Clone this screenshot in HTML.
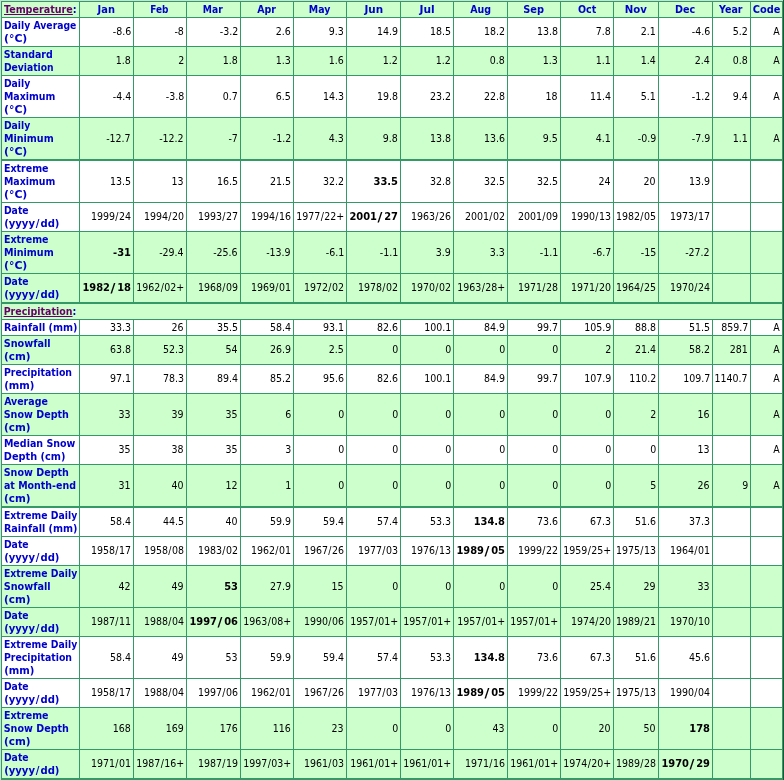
<!DOCTYPE html>
<html lang="en"><head><meta charset="utf-8"><title>Climate Normals</title>
<style>
html,body{margin:0;padding:0;background:#339966;}
body{width:784px;height:780px;position:relative;overflow:hidden;
 font-family:"DejaVu Sans Condensed","DejaVu Sans","Liberation Sans",sans-serif;font-stretch:condensed;font-size:11px;line-height:13px;color:#000;}
#t{position:absolute;left:0;top:0;width:784px;height:780px;background:#339966;overflow:hidden;}
.e{position:absolute;}
.c{position:absolute;box-sizing:border-box;overflow:hidden;white-space:nowrap;padding-top:1px;}
.g{background:#ccffcc;}
.w{background:#ffffff;}
.l{text-align:left;padding-left:2px;font-weight:bold;color:#0000cc;}
.l a{color:#660066;text-decoration:underline;text-decoration-skip-ink:none;}
.ln{display:block;height:13px;transform-origin:0 0;}
.m{text-align:left;font-weight:bold;color:#0000cc;}
.d{text-align:right;padding-right:2px;}
.m span{display:inline-block;transform-origin:0 0;}
.d span{display:inline-block;transform-origin:100% 50%;transform:scaleX(.955);}
b{font-weight:bold;display:inline-block;}
i{font-style:normal;}
.l i{padding:0 .9px}
.d span i{padding:0 .4px}
.d b i{display:inline-block;padding:0 2.3px 0 1.3px;transform:translateY(.4px) scale(1.35,1.12)}
</style></head>
<body><div id="t">
<div class="c l g" style="left:2px;top:2px;width:77px;height:15px"><span class="ln" style="transform:translateX(0.00px) scaleX(0.9689)"><a>Temperature</a>:</span></div>
<div class="c m g" style="left:80px;top:2px;width:53px;height:15px"><span style="transform:translateX(17.60px) scaleX(0.9951)">Jan</span></div>
<div class="c m g" style="left:134px;top:2px;width:52px;height:15px"><span style="transform:translateX(16.20px) scaleX(0.9029)">Feb</span></div>
<div class="c m g" style="left:187px;top:2px;width:53px;height:15px"><span style="transform:translateX(15.86px) scaleX(0.9297)">Mar</span></div>
<div class="c m g" style="left:241px;top:2px;width:52px;height:15px"><span style="transform:translateX(16.23px) scaleX(0.9548)">Apr</span></div>
<div class="c m g" style="left:294px;top:2px;width:52px;height:15px"><span style="transform:translateX(14.83px) scaleX(0.9505)">May</span></div>
<div class="c m g" style="left:347px;top:2px;width:53px;height:15px"><span style="transform:translateX(17.50px) scaleX(1.0518)">Jun</span></div>
<div class="c m g" style="left:401px;top:2px;width:52px;height:15px"><span style="transform:translateX(18.54px) scaleX(1.0746)">Jul</span></div>
<div class="c m g" style="left:454px;top:2px;width:53px;height:15px"><span style="transform:translateX(16.23px) scaleX(0.9572)">Aug</span></div>
<div class="c m g" style="left:508px;top:2px;width:52px;height:15px"><span style="transform:translateX(15.29px) scaleX(0.9902)">Sep</span></div>
<div class="c m g" style="left:561px;top:2px;width:52px;height:15px"><span style="transform:translateX(17.01px) scaleX(0.9614)">Oct</span></div>
<div class="c m g" style="left:614px;top:2px;width:44px;height:15px"><span style="transform:translateX(10.64px) scaleX(1.0278)">Nov</span></div>
<div class="c m g" style="left:659px;top:2px;width:53px;height:15px"><span style="transform:translateX(15.94px) scaleX(0.9725)">Dec</span></div>
<div class="c m g" style="left:713px;top:2px;width:37px;height:15px"><span style="transform:translateX(6.11px) scaleX(0.9587)">Year</span></div>
<div class="c m g" style="left:751px;top:2px;width:31px;height:15px"><span style="transform:translateX(1.76px) scaleX(0.9915)">Code</span></div>
<div class="c l w" style="left:2px;top:18px;width:77px;height:28px"><span class="ln" style="transform:translateX(-0.08px) scaleX(0.9368)">Daily Average</span><span class="ln" style="transform:translateX(0.00px) scaleX(1.0972)">(°C)</span></div>
<div class="c d w" style="left:80px;top:18px;width:53px;height:28px;padding-top:7px"><span>-8.6</span></div>
<div class="c d w" style="left:134px;top:18px;width:52px;height:28px;padding-top:7px"><span>-8</span></div>
<div class="c d w" style="left:187px;top:18px;width:53px;height:28px;padding-top:7px"><span>-3.2</span></div>
<div class="c d w" style="left:241px;top:18px;width:52px;height:28px;padding-top:7px"><span>2.6</span></div>
<div class="c d w" style="left:294px;top:18px;width:52px;height:28px;padding-top:7px"><span>9.3</span></div>
<div class="c d w" style="left:347px;top:18px;width:53px;height:28px;padding-top:7px"><span>14.9</span></div>
<div class="c d w" style="left:401px;top:18px;width:52px;height:28px;padding-top:7px"><span>18.5</span></div>
<div class="c d w" style="left:454px;top:18px;width:53px;height:28px;padding-top:7px"><span>18.2</span></div>
<div class="c d w" style="left:508px;top:18px;width:52px;height:28px;padding-top:7px"><span>13.8</span></div>
<div class="c d w" style="left:561px;top:18px;width:52px;height:28px;padding-top:7px"><span>7.8</span></div>
<div class="c d w" style="left:614px;top:18px;width:44px;height:28px;padding-top:7px"><span>2.1</span></div>
<div class="c d w" style="left:659px;top:18px;width:53px;height:28px;padding-top:7px"><span>-4.6</span></div>
<div class="c d w" style="left:713px;top:18px;width:37px;height:28px;padding-top:7px"><span>5.2</span></div>
<div class="c d w" style="left:751px;top:18px;width:31px;height:28px;padding-top:7px"><span>A</span></div>
<div class="c l g" style="left:2px;top:47px;width:77px;height:28px"><span class="ln" style="transform:translateX(-0.18px) scaleX(0.9531)">Standard</span><span class="ln" style="transform:translateX(-0.09px) scaleX(0.9312)">Deviation</span></div>
<div class="c d g" style="left:80px;top:47px;width:53px;height:28px;padding-top:7px"><span>1.8</span></div>
<div class="c d g" style="left:134px;top:47px;width:52px;height:28px;padding-top:7px"><span>2</span></div>
<div class="c d g" style="left:187px;top:47px;width:53px;height:28px;padding-top:7px"><span>1.8</span></div>
<div class="c d g" style="left:241px;top:47px;width:52px;height:28px;padding-top:7px"><span>1.3</span></div>
<div class="c d g" style="left:294px;top:47px;width:52px;height:28px;padding-top:7px"><span>1.6</span></div>
<div class="c d g" style="left:347px;top:47px;width:53px;height:28px;padding-top:7px"><span>1.2</span></div>
<div class="c d g" style="left:401px;top:47px;width:52px;height:28px;padding-top:7px"><span>1.2</span></div>
<div class="c d g" style="left:454px;top:47px;width:53px;height:28px;padding-top:7px"><span>0.8</span></div>
<div class="c d g" style="left:508px;top:47px;width:52px;height:28px;padding-top:7px"><span>1.3</span></div>
<div class="c d g" style="left:561px;top:47px;width:52px;height:28px;padding-top:7px"><span>1.1</span></div>
<div class="c d g" style="left:614px;top:47px;width:44px;height:28px;padding-top:7px"><span>1.4</span></div>
<div class="c d g" style="left:659px;top:47px;width:53px;height:28px;padding-top:7px"><span>2.4</span></div>
<div class="c d g" style="left:713px;top:47px;width:37px;height:28px;padding-top:7px"><span>0.8</span></div>
<div class="c d g" style="left:751px;top:47px;width:31px;height:28px;padding-top:7px"><span>A</span></div>
<div class="c l w" style="left:2px;top:76px;width:77px;height:41px"><span class="ln" style="transform:translateX(-0.08px) scaleX(0.9364)">Daily</span><span class="ln" style="transform:translateX(-0.09px) scaleX(0.9526)">Maximum</span><span class="ln" style="transform:translateX(0.00px) scaleX(1.0972)">(°C)</span></div>
<div class="c d w" style="left:80px;top:76px;width:53px;height:41px;padding-top:14px"><span>-4.4</span></div>
<div class="c d w" style="left:134px;top:76px;width:52px;height:41px;padding-top:14px"><span>-3.8</span></div>
<div class="c d w" style="left:187px;top:76px;width:53px;height:41px;padding-top:14px"><span>0.7</span></div>
<div class="c d w" style="left:241px;top:76px;width:52px;height:41px;padding-top:14px"><span>6.5</span></div>
<div class="c d w" style="left:294px;top:76px;width:52px;height:41px;padding-top:14px"><span>14.3</span></div>
<div class="c d w" style="left:347px;top:76px;width:53px;height:41px;padding-top:14px"><span>19.8</span></div>
<div class="c d w" style="left:401px;top:76px;width:52px;height:41px;padding-top:14px"><span>23.2</span></div>
<div class="c d w" style="left:454px;top:76px;width:53px;height:41px;padding-top:14px"><span>22.8</span></div>
<div class="c d w" style="left:508px;top:76px;width:52px;height:41px;padding-top:14px"><span>18</span></div>
<div class="c d w" style="left:561px;top:76px;width:52px;height:41px;padding-top:14px"><span>11.4</span></div>
<div class="c d w" style="left:614px;top:76px;width:44px;height:41px;padding-top:14px"><span>5.1</span></div>
<div class="c d w" style="left:659px;top:76px;width:53px;height:41px;padding-top:14px"><span>-1.2</span></div>
<div class="c d w" style="left:713px;top:76px;width:37px;height:41px;padding-top:14px"><span>9.4</span></div>
<div class="c d w" style="left:751px;top:76px;width:31px;height:41px;padding-top:14px"><span>A</span></div>
<div class="c l g" style="left:2px;top:118px;width:77px;height:41px"><span class="ln" style="transform:translateX(-0.08px) scaleX(0.9364)">Daily</span><span class="ln" style="transform:translateX(-0.11px) scaleX(0.9693)">Minimum</span><span class="ln" style="transform:translateX(0.00px) scaleX(1.0972)">(°C)</span></div>
<div class="c d g" style="left:80px;top:118px;width:53px;height:41px;padding-top:14px"><span>-12.7</span></div>
<div class="c d g" style="left:134px;top:118px;width:52px;height:41px;padding-top:14px"><span>-12.2</span></div>
<div class="c d g" style="left:187px;top:118px;width:53px;height:41px;padding-top:14px"><span>-7</span></div>
<div class="c d g" style="left:241px;top:118px;width:52px;height:41px;padding-top:14px"><span>-1.2</span></div>
<div class="c d g" style="left:294px;top:118px;width:52px;height:41px;padding-top:14px"><span>4.3</span></div>
<div class="c d g" style="left:347px;top:118px;width:53px;height:41px;padding-top:14px"><span>9.8</span></div>
<div class="c d g" style="left:401px;top:118px;width:52px;height:41px;padding-top:14px"><span>13.8</span></div>
<div class="c d g" style="left:454px;top:118px;width:53px;height:41px;padding-top:14px"><span>13.6</span></div>
<div class="c d g" style="left:508px;top:118px;width:52px;height:41px;padding-top:14px"><span>9.5</span></div>
<div class="c d g" style="left:561px;top:118px;width:52px;height:41px;padding-top:14px"><span>4.1</span></div>
<div class="c d g" style="left:614px;top:118px;width:44px;height:41px;padding-top:14px"><span>-0.9</span></div>
<div class="c d g" style="left:659px;top:118px;width:53px;height:41px;padding-top:14px"><span>-7.9</span></div>
<div class="c d g" style="left:713px;top:118px;width:37px;height:41px;padding-top:14px"><span>1.1</span></div>
<div class="c d g" style="left:751px;top:118px;width:31px;height:41px;padding-top:14px"><span>A</span></div>
<div class="c l w" style="left:2px;top:161px;width:77px;height:41px"><span class="ln" style="transform:translateX(-0.10px) scaleX(0.9608)">Extreme</span><span class="ln" style="transform:translateX(-0.09px) scaleX(0.9526)">Maximum</span><span class="ln" style="transform:translateX(0.00px) scaleX(1.0972)">(°C)</span></div>
<div class="c d w" style="left:80px;top:161px;width:53px;height:41px;padding-top:14px"><span>13.5</span></div>
<div class="c d w" style="left:134px;top:161px;width:52px;height:41px;padding-top:14px"><span>13</span></div>
<div class="c d w" style="left:187px;top:161px;width:53px;height:41px;padding-top:14px"><span>16.5</span></div>
<div class="c d w" style="left:241px;top:161px;width:52px;height:41px;padding-top:14px"><span>21.5</span></div>
<div class="c d w" style="left:294px;top:161px;width:52px;height:41px;padding-top:14px"><span>32.2</span></div>
<div class="c d w" style="left:347px;top:161px;width:53px;height:41px;padding-top:14px"><b>33.5</b></div>
<div class="c d w" style="left:401px;top:161px;width:52px;height:41px;padding-top:14px"><span>32.8</span></div>
<div class="c d w" style="left:454px;top:161px;width:53px;height:41px;padding-top:14px"><span>32.5</span></div>
<div class="c d w" style="left:508px;top:161px;width:52px;height:41px;padding-top:14px"><span>32.5</span></div>
<div class="c d w" style="left:561px;top:161px;width:52px;height:41px;padding-top:14px"><span>24</span></div>
<div class="c d w" style="left:614px;top:161px;width:44px;height:41px;padding-top:14px"><span>20</span></div>
<div class="c d w" style="left:659px;top:161px;width:53px;height:41px;padding-top:14px"><span>13.9</span></div>
<div class="c d w" style="left:713px;top:161px;width:37px;height:41px;padding-top:14px"></div>
<div class="c d w" style="left:751px;top:161px;width:31px;height:41px;padding-top:14px"></div>
<div class="c l w" style="left:2px;top:203px;width:77px;height:28px"><span class="ln" style="transform:translateX(-0.08px) scaleX(0.9372)">Date</span><span class="ln" style="transform:translateX(0.14px) scaleX(1.0158)">(yyyy<i>/</i>dd)</span></div>
<div class="c d w" style="left:80px;top:203px;width:53px;height:28px;padding-top:7px"><span>1999<i>/</i>24</span></div>
<div class="c d w" style="left:134px;top:203px;width:52px;height:28px;padding-top:7px"><span>1994<i>/</i>20</span></div>
<div class="c d w" style="left:187px;top:203px;width:53px;height:28px;padding-top:7px"><span>1993<i>/</i>27</span></div>
<div class="c d w" style="left:241px;top:203px;width:52px;height:28px;padding-top:7px"><span>1994<i>/</i>16</span></div>
<div class="c d w" style="left:294px;top:203px;width:52px;height:28px;padding-top:7px"><span>1977<i>/</i>22+</span></div>
<div class="c d w" style="left:347px;top:203px;width:53px;height:28px;padding-top:7px"><b>2001<i>/</i>27</b></div>
<div class="c d w" style="left:401px;top:203px;width:52px;height:28px;padding-top:7px"><span>1963<i>/</i>26</span></div>
<div class="c d w" style="left:454px;top:203px;width:53px;height:28px;padding-top:7px"><span>2001<i>/</i>02</span></div>
<div class="c d w" style="left:508px;top:203px;width:52px;height:28px;padding-top:7px"><span>2001<i>/</i>09</span></div>
<div class="c d w" style="left:561px;top:203px;width:52px;height:28px;padding-top:7px"><span>1990<i>/</i>13</span></div>
<div class="c d w" style="left:614px;top:203px;width:44px;height:28px;padding-top:7px"><span>1982<i>/</i>05</span></div>
<div class="c d w" style="left:659px;top:203px;width:53px;height:28px;padding-top:7px"><span>1973<i>/</i>17</span></div>
<div class="c d w" style="left:713px;top:203px;width:37px;height:28px;padding-top:7px"></div>
<div class="c d w" style="left:751px;top:203px;width:31px;height:28px;padding-top:7px"></div>
<div class="c l g" style="left:2px;top:232px;width:77px;height:41px"><span class="ln" style="transform:translateX(-0.10px) scaleX(0.9608)">Extreme</span><span class="ln" style="transform:translateX(-0.11px) scaleX(0.9693)">Minimum</span><span class="ln" style="transform:translateX(0.00px) scaleX(1.0972)">(°C)</span></div>
<div class="c d g" style="left:80px;top:232px;width:53px;height:41px;padding-top:14px"><b>-31</b></div>
<div class="c d g" style="left:134px;top:232px;width:52px;height:41px;padding-top:14px"><span>-29.4</span></div>
<div class="c d g" style="left:187px;top:232px;width:53px;height:41px;padding-top:14px"><span>-25.6</span></div>
<div class="c d g" style="left:241px;top:232px;width:52px;height:41px;padding-top:14px"><span>-13.9</span></div>
<div class="c d g" style="left:294px;top:232px;width:52px;height:41px;padding-top:14px"><span>-6.1</span></div>
<div class="c d g" style="left:347px;top:232px;width:53px;height:41px;padding-top:14px"><span>-1.1</span></div>
<div class="c d g" style="left:401px;top:232px;width:52px;height:41px;padding-top:14px"><span>3.9</span></div>
<div class="c d g" style="left:454px;top:232px;width:53px;height:41px;padding-top:14px"><span>3.3</span></div>
<div class="c d g" style="left:508px;top:232px;width:52px;height:41px;padding-top:14px"><span>-1.1</span></div>
<div class="c d g" style="left:561px;top:232px;width:52px;height:41px;padding-top:14px"><span>-6.7</span></div>
<div class="c d g" style="left:614px;top:232px;width:44px;height:41px;padding-top:14px"><span>-15</span></div>
<div class="c d g" style="left:659px;top:232px;width:53px;height:41px;padding-top:14px"><span>-27.2</span></div>
<div class="c d g" style="left:713px;top:232px;width:37px;height:41px;padding-top:14px"></div>
<div class="c d g" style="left:751px;top:232px;width:31px;height:41px;padding-top:14px"></div>
<div class="c l g" style="left:2px;top:274px;width:77px;height:28px"><span class="ln" style="transform:translateX(-0.08px) scaleX(0.9372)">Date</span><span class="ln" style="transform:translateX(0.14px) scaleX(1.0158)">(yyyy<i>/</i>dd)</span></div>
<div class="c d g" style="left:80px;top:274px;width:53px;height:28px;padding-top:7px"><b>1982<i>/</i>18</b></div>
<div class="c d g" style="left:134px;top:274px;width:52px;height:28px;padding-top:7px"><span>1962<i>/</i>02+</span></div>
<div class="c d g" style="left:187px;top:274px;width:53px;height:28px;padding-top:7px"><span>1968<i>/</i>09</span></div>
<div class="c d g" style="left:241px;top:274px;width:52px;height:28px;padding-top:7px"><span>1969<i>/</i>01</span></div>
<div class="c d g" style="left:294px;top:274px;width:52px;height:28px;padding-top:7px"><span>1972<i>/</i>02</span></div>
<div class="c d g" style="left:347px;top:274px;width:53px;height:28px;padding-top:7px"><span>1978<i>/</i>02</span></div>
<div class="c d g" style="left:401px;top:274px;width:52px;height:28px;padding-top:7px"><span>1970<i>/</i>02</span></div>
<div class="c d g" style="left:454px;top:274px;width:53px;height:28px;padding-top:7px"><span>1963<i>/</i>28+</span></div>
<div class="c d g" style="left:508px;top:274px;width:52px;height:28px;padding-top:7px"><span>1971<i>/</i>28</span></div>
<div class="c d g" style="left:561px;top:274px;width:52px;height:28px;padding-top:7px"><span>1971<i>/</i>20</span></div>
<div class="c d g" style="left:614px;top:274px;width:44px;height:28px;padding-top:7px"><span>1964<i>/</i>25</span></div>
<div class="c d g" style="left:659px;top:274px;width:53px;height:28px;padding-top:7px"><span>1970<i>/</i>24</span></div>
<div class="c d g" style="left:713px;top:274px;width:37px;height:28px;padding-top:7px"></div>
<div class="c d g" style="left:751px;top:274px;width:31px;height:28px;padding-top:7px"></div>
<div class="c l g" style="left:2px;top:304px;width:780px;height:15px"><span class="ln" style="transform:translateX(-0.35px) scaleX(0.9566)"><a>Precipitation</a>:</span></div>
<div class="c l w" style="left:2px;top:320px;width:77px;height:15px"><span class="ln" style="transform:translateX(-0.11px) scaleX(0.9728)">Rainfall (mm)</span></div>
<div class="c d w" style="left:80px;top:320px;width:53px;height:15px;padding-top:1px"><span>33.3</span></div>
<div class="c d w" style="left:134px;top:320px;width:52px;height:15px;padding-top:1px"><span>26</span></div>
<div class="c d w" style="left:187px;top:320px;width:53px;height:15px;padding-top:1px"><span>35.5</span></div>
<div class="c d w" style="left:241px;top:320px;width:52px;height:15px;padding-top:1px"><span>58.4</span></div>
<div class="c d w" style="left:294px;top:320px;width:52px;height:15px;padding-top:1px"><span>93.1</span></div>
<div class="c d w" style="left:347px;top:320px;width:53px;height:15px;padding-top:1px"><span>82.6</span></div>
<div class="c d w" style="left:401px;top:320px;width:52px;height:15px;padding-top:1px"><span>100.1</span></div>
<div class="c d w" style="left:454px;top:320px;width:53px;height:15px;padding-top:1px"><span>84.9</span></div>
<div class="c d w" style="left:508px;top:320px;width:52px;height:15px;padding-top:1px"><span>99.7</span></div>
<div class="c d w" style="left:561px;top:320px;width:52px;height:15px;padding-top:1px"><span>105.9</span></div>
<div class="c d w" style="left:614px;top:320px;width:44px;height:15px;padding-top:1px"><span>88.8</span></div>
<div class="c d w" style="left:659px;top:320px;width:53px;height:15px;padding-top:1px"><span>51.5</span></div>
<div class="c d w" style="left:713px;top:320px;width:37px;height:15px;padding-top:1px"><span>859.7</span></div>
<div class="c d w" style="left:751px;top:320px;width:31px;height:15px;padding-top:1px"><span>A</span></div>
<div class="c l g" style="left:2px;top:336px;width:77px;height:28px"><span class="ln" style="transform:translateX(-0.31px) scaleX(0.9800)">Snowfall</span><span class="ln" style="transform:translateX(0.10px) scaleX(1.0512)">(cm)</span></div>
<div class="c d g" style="left:80px;top:336px;width:53px;height:28px;padding-top:7px"><span>63.8</span></div>
<div class="c d g" style="left:134px;top:336px;width:52px;height:28px;padding-top:7px"><span>52.3</span></div>
<div class="c d g" style="left:187px;top:336px;width:53px;height:28px;padding-top:7px"><span>54</span></div>
<div class="c d g" style="left:241px;top:336px;width:52px;height:28px;padding-top:7px"><span>26.9</span></div>
<div class="c d g" style="left:294px;top:336px;width:52px;height:28px;padding-top:7px"><span>2.5</span></div>
<div class="c d g" style="left:347px;top:336px;width:53px;height:28px;padding-top:7px"><span>0</span></div>
<div class="c d g" style="left:401px;top:336px;width:52px;height:28px;padding-top:7px"><span>0</span></div>
<div class="c d g" style="left:454px;top:336px;width:53px;height:28px;padding-top:7px"><span>0</span></div>
<div class="c d g" style="left:508px;top:336px;width:52px;height:28px;padding-top:7px"><span>0</span></div>
<div class="c d g" style="left:561px;top:336px;width:52px;height:28px;padding-top:7px"><span>2</span></div>
<div class="c d g" style="left:614px;top:336px;width:44px;height:28px;padding-top:7px"><span>21.4</span></div>
<div class="c d g" style="left:659px;top:336px;width:53px;height:28px;padding-top:7px"><span>58.2</span></div>
<div class="c d g" style="left:713px;top:336px;width:37px;height:28px;padding-top:7px"><span>281</span></div>
<div class="c d g" style="left:751px;top:336px;width:31px;height:28px;padding-top:7px"><span>A</span></div>
<div class="c l w" style="left:2px;top:365px;width:77px;height:28px"><span class="ln" style="transform:translateX(-0.09px) scaleX(0.9464)">Precipitation</span><span class="ln" style="transform:translateX(0.14px) scaleX(1.0199)">(mm)</span></div>
<div class="c d w" style="left:80px;top:365px;width:53px;height:28px;padding-top:7px"><span>97.1</span></div>
<div class="c d w" style="left:134px;top:365px;width:52px;height:28px;padding-top:7px"><span>78.3</span></div>
<div class="c d w" style="left:187px;top:365px;width:53px;height:28px;padding-top:7px"><span>89.4</span></div>
<div class="c d w" style="left:241px;top:365px;width:52px;height:28px;padding-top:7px"><span>85.2</span></div>
<div class="c d w" style="left:294px;top:365px;width:52px;height:28px;padding-top:7px"><span>95.6</span></div>
<div class="c d w" style="left:347px;top:365px;width:53px;height:28px;padding-top:7px"><span>82.6</span></div>
<div class="c d w" style="left:401px;top:365px;width:52px;height:28px;padding-top:7px"><span>100.1</span></div>
<div class="c d w" style="left:454px;top:365px;width:53px;height:28px;padding-top:7px"><span>84.9</span></div>
<div class="c d w" style="left:508px;top:365px;width:52px;height:28px;padding-top:7px"><span>99.7</span></div>
<div class="c d w" style="left:561px;top:365px;width:52px;height:28px;padding-top:7px"><span>107.9</span></div>
<div class="c d w" style="left:614px;top:365px;width:44px;height:28px;padding-top:7px"><span>110.2</span></div>
<div class="c d w" style="left:659px;top:365px;width:53px;height:28px;padding-top:7px"><span>109.7</span></div>
<div class="c d w" style="left:713px;top:365px;width:37px;height:28px;padding-top:7px"><span>1140.7</span></div>
<div class="c d w" style="left:751px;top:365px;width:31px;height:28px;padding-top:7px"><span>A</span></div>
<div class="c l g" style="left:2px;top:394px;width:77px;height:41px"><span class="ln" style="transform:translateX(0.13px) scaleX(0.9536)">Average</span><span class="ln" style="transform:translateX(-0.29px) scaleX(0.9681)">Snow Depth</span><span class="ln" style="transform:translateX(0.10px) scaleX(1.0512)">(cm)</span></div>
<div class="c d g" style="left:80px;top:394px;width:53px;height:41px;padding-top:14px"><span>33</span></div>
<div class="c d g" style="left:134px;top:394px;width:52px;height:41px;padding-top:14px"><span>39</span></div>
<div class="c d g" style="left:187px;top:394px;width:53px;height:41px;padding-top:14px"><span>35</span></div>
<div class="c d g" style="left:241px;top:394px;width:52px;height:41px;padding-top:14px"><span>6</span></div>
<div class="c d g" style="left:294px;top:394px;width:52px;height:41px;padding-top:14px"><span>0</span></div>
<div class="c d g" style="left:347px;top:394px;width:53px;height:41px;padding-top:14px"><span>0</span></div>
<div class="c d g" style="left:401px;top:394px;width:52px;height:41px;padding-top:14px"><span>0</span></div>
<div class="c d g" style="left:454px;top:394px;width:53px;height:41px;padding-top:14px"><span>0</span></div>
<div class="c d g" style="left:508px;top:394px;width:52px;height:41px;padding-top:14px"><span>0</span></div>
<div class="c d g" style="left:561px;top:394px;width:52px;height:41px;padding-top:14px"><span>0</span></div>
<div class="c d g" style="left:614px;top:394px;width:44px;height:41px;padding-top:14px"><span>2</span></div>
<div class="c d g" style="left:659px;top:394px;width:53px;height:41px;padding-top:14px"><span>16</span></div>
<div class="c d g" style="left:713px;top:394px;width:37px;height:41px;padding-top:14px"></div>
<div class="c d g" style="left:751px;top:394px;width:31px;height:41px;padding-top:14px"><span>A</span></div>
<div class="c l w" style="left:2px;top:436px;width:77px;height:28px"><span class="ln" style="transform:translateX(-0.10px) scaleX(0.9612)">Median Snow</span><span class="ln" style="transform:translateX(-0.13px) scaleX(0.9842)">Depth (cm)</span></div>
<div class="c d w" style="left:80px;top:436px;width:53px;height:28px;padding-top:7px"><span>35</span></div>
<div class="c d w" style="left:134px;top:436px;width:52px;height:28px;padding-top:7px"><span>38</span></div>
<div class="c d w" style="left:187px;top:436px;width:53px;height:28px;padding-top:7px"><span>35</span></div>
<div class="c d w" style="left:241px;top:436px;width:52px;height:28px;padding-top:7px"><span>3</span></div>
<div class="c d w" style="left:294px;top:436px;width:52px;height:28px;padding-top:7px"><span>0</span></div>
<div class="c d w" style="left:347px;top:436px;width:53px;height:28px;padding-top:7px"><span>0</span></div>
<div class="c d w" style="left:401px;top:436px;width:52px;height:28px;padding-top:7px"><span>0</span></div>
<div class="c d w" style="left:454px;top:436px;width:53px;height:28px;padding-top:7px"><span>0</span></div>
<div class="c d w" style="left:508px;top:436px;width:52px;height:28px;padding-top:7px"><span>0</span></div>
<div class="c d w" style="left:561px;top:436px;width:52px;height:28px;padding-top:7px"><span>0</span></div>
<div class="c d w" style="left:614px;top:436px;width:44px;height:28px;padding-top:7px"><span>0</span></div>
<div class="c d w" style="left:659px;top:436px;width:53px;height:28px;padding-top:7px"><span>13</span></div>
<div class="c d w" style="left:713px;top:436px;width:37px;height:28px;padding-top:7px"></div>
<div class="c d w" style="left:751px;top:436px;width:31px;height:28px;padding-top:7px"><span>A</span></div>
<div class="c l g" style="left:2px;top:465px;width:77px;height:41px"><span class="ln" style="transform:translateX(-0.29px) scaleX(0.9681)">Snow Depth</span><span class="ln" style="transform:translateX(-0.05px) scaleX(0.9571)">at Month-end</span><span class="ln" style="transform:translateX(0.10px) scaleX(1.0512)">(cm)</span></div>
<div class="c d g" style="left:80px;top:465px;width:53px;height:41px;padding-top:14px"><span>31</span></div>
<div class="c d g" style="left:134px;top:465px;width:52px;height:41px;padding-top:14px"><span>40</span></div>
<div class="c d g" style="left:187px;top:465px;width:53px;height:41px;padding-top:14px"><span>12</span></div>
<div class="c d g" style="left:241px;top:465px;width:52px;height:41px;padding-top:14px"><span>1</span></div>
<div class="c d g" style="left:294px;top:465px;width:52px;height:41px;padding-top:14px"><span>0</span></div>
<div class="c d g" style="left:347px;top:465px;width:53px;height:41px;padding-top:14px"><span>0</span></div>
<div class="c d g" style="left:401px;top:465px;width:52px;height:41px;padding-top:14px"><span>0</span></div>
<div class="c d g" style="left:454px;top:465px;width:53px;height:41px;padding-top:14px"><span>0</span></div>
<div class="c d g" style="left:508px;top:465px;width:52px;height:41px;padding-top:14px"><span>0</span></div>
<div class="c d g" style="left:561px;top:465px;width:52px;height:41px;padding-top:14px"><span>0</span></div>
<div class="c d g" style="left:614px;top:465px;width:44px;height:41px;padding-top:14px"><span>5</span></div>
<div class="c d g" style="left:659px;top:465px;width:53px;height:41px;padding-top:14px"><span>26</span></div>
<div class="c d g" style="left:713px;top:465px;width:37px;height:41px;padding-top:14px"><span>9</span></div>
<div class="c d g" style="left:751px;top:465px;width:31px;height:41px;padding-top:14px"><span>A</span></div>
<div class="c l w" style="left:2px;top:508px;width:77px;height:28px"><span class="ln" style="transform:translateX(-0.08px) scaleX(0.9398)">Extreme Daily</span><span class="ln" style="transform:translateX(-0.11px) scaleX(0.9728)">Rainfall (mm)</span></div>
<div class="c d w" style="left:80px;top:508px;width:53px;height:28px;padding-top:7px"><span>58.4</span></div>
<div class="c d w" style="left:134px;top:508px;width:52px;height:28px;padding-top:7px"><span>44.5</span></div>
<div class="c d w" style="left:187px;top:508px;width:53px;height:28px;padding-top:7px"><span>40</span></div>
<div class="c d w" style="left:241px;top:508px;width:52px;height:28px;padding-top:7px"><span>59.9</span></div>
<div class="c d w" style="left:294px;top:508px;width:52px;height:28px;padding-top:7px"><span>59.4</span></div>
<div class="c d w" style="left:347px;top:508px;width:53px;height:28px;padding-top:7px"><span>57.4</span></div>
<div class="c d w" style="left:401px;top:508px;width:52px;height:28px;padding-top:7px"><span>53.3</span></div>
<div class="c d w" style="left:454px;top:508px;width:53px;height:28px;padding-top:7px"><b>134.8</b></div>
<div class="c d w" style="left:508px;top:508px;width:52px;height:28px;padding-top:7px"><span>73.6</span></div>
<div class="c d w" style="left:561px;top:508px;width:52px;height:28px;padding-top:7px"><span>67.3</span></div>
<div class="c d w" style="left:614px;top:508px;width:44px;height:28px;padding-top:7px"><span>51.6</span></div>
<div class="c d w" style="left:659px;top:508px;width:53px;height:28px;padding-top:7px"><span>37.3</span></div>
<div class="c d w" style="left:713px;top:508px;width:37px;height:28px;padding-top:7px"></div>
<div class="c d w" style="left:751px;top:508px;width:31px;height:28px;padding-top:7px"></div>
<div class="c l w" style="left:2px;top:537px;width:77px;height:28px"><span class="ln" style="transform:translateX(-0.08px) scaleX(0.9372)">Date</span><span class="ln" style="transform:translateX(0.14px) scaleX(1.0158)">(yyyy<i>/</i>dd)</span></div>
<div class="c d w" style="left:80px;top:537px;width:53px;height:28px;padding-top:7px"><span>1958<i>/</i>17</span></div>
<div class="c d w" style="left:134px;top:537px;width:52px;height:28px;padding-top:7px"><span>1958<i>/</i>08</span></div>
<div class="c d w" style="left:187px;top:537px;width:53px;height:28px;padding-top:7px"><span>1983<i>/</i>02</span></div>
<div class="c d w" style="left:241px;top:537px;width:52px;height:28px;padding-top:7px"><span>1962<i>/</i>01</span></div>
<div class="c d w" style="left:294px;top:537px;width:52px;height:28px;padding-top:7px"><span>1967<i>/</i>26</span></div>
<div class="c d w" style="left:347px;top:537px;width:53px;height:28px;padding-top:7px"><span>1977<i>/</i>03</span></div>
<div class="c d w" style="left:401px;top:537px;width:52px;height:28px;padding-top:7px"><span>1976<i>/</i>13</span></div>
<div class="c d w" style="left:454px;top:537px;width:53px;height:28px;padding-top:7px"><b>1989<i>/</i>05</b></div>
<div class="c d w" style="left:508px;top:537px;width:52px;height:28px;padding-top:7px"><span>1999<i>/</i>22</span></div>
<div class="c d w" style="left:561px;top:537px;width:52px;height:28px;padding-top:7px"><span>1959<i>/</i>25+</span></div>
<div class="c d w" style="left:614px;top:537px;width:44px;height:28px;padding-top:7px"><span>1975<i>/</i>13</span></div>
<div class="c d w" style="left:659px;top:537px;width:53px;height:28px;padding-top:7px"><span>1964<i>/</i>01</span></div>
<div class="c d w" style="left:713px;top:537px;width:37px;height:28px;padding-top:7px"></div>
<div class="c d w" style="left:751px;top:537px;width:31px;height:28px;padding-top:7px"></div>
<div class="c l g" style="left:2px;top:566px;width:77px;height:41px"><span class="ln" style="transform:translateX(-0.08px) scaleX(0.9398)">Extreme Daily</span><span class="ln" style="transform:translateX(-0.31px) scaleX(0.9800)">Snowfall</span><span class="ln" style="transform:translateX(0.10px) scaleX(1.0512)">(cm)</span></div>
<div class="c d g" style="left:80px;top:566px;width:53px;height:41px;padding-top:14px"><span>42</span></div>
<div class="c d g" style="left:134px;top:566px;width:52px;height:41px;padding-top:14px"><span>49</span></div>
<div class="c d g" style="left:187px;top:566px;width:53px;height:41px;padding-top:14px"><b>53</b></div>
<div class="c d g" style="left:241px;top:566px;width:52px;height:41px;padding-top:14px"><span>27.9</span></div>
<div class="c d g" style="left:294px;top:566px;width:52px;height:41px;padding-top:14px"><span>15</span></div>
<div class="c d g" style="left:347px;top:566px;width:53px;height:41px;padding-top:14px"><span>0</span></div>
<div class="c d g" style="left:401px;top:566px;width:52px;height:41px;padding-top:14px"><span>0</span></div>
<div class="c d g" style="left:454px;top:566px;width:53px;height:41px;padding-top:14px"><span>0</span></div>
<div class="c d g" style="left:508px;top:566px;width:52px;height:41px;padding-top:14px"><span>0</span></div>
<div class="c d g" style="left:561px;top:566px;width:52px;height:41px;padding-top:14px"><span>25.4</span></div>
<div class="c d g" style="left:614px;top:566px;width:44px;height:41px;padding-top:14px"><span>29</span></div>
<div class="c d g" style="left:659px;top:566px;width:53px;height:41px;padding-top:14px"><span>33</span></div>
<div class="c d g" style="left:713px;top:566px;width:37px;height:41px;padding-top:14px"></div>
<div class="c d g" style="left:751px;top:566px;width:31px;height:41px;padding-top:14px"></div>
<div class="c l g" style="left:2px;top:608px;width:77px;height:28px"><span class="ln" style="transform:translateX(-0.08px) scaleX(0.9372)">Date</span><span class="ln" style="transform:translateX(0.14px) scaleX(1.0158)">(yyyy<i>/</i>dd)</span></div>
<div class="c d g" style="left:80px;top:608px;width:53px;height:28px;padding-top:7px"><span>1987<i>/</i>11</span></div>
<div class="c d g" style="left:134px;top:608px;width:52px;height:28px;padding-top:7px"><span>1988<i>/</i>04</span></div>
<div class="c d g" style="left:187px;top:608px;width:53px;height:28px;padding-top:7px"><b>1997<i>/</i>06</b></div>
<div class="c d g" style="left:241px;top:608px;width:52px;height:28px;padding-top:7px"><span>1963<i>/</i>08+</span></div>
<div class="c d g" style="left:294px;top:608px;width:52px;height:28px;padding-top:7px"><span>1990<i>/</i>06</span></div>
<div class="c d g" style="left:347px;top:608px;width:53px;height:28px;padding-top:7px"><span>1957<i>/</i>01+</span></div>
<div class="c d g" style="left:401px;top:608px;width:52px;height:28px;padding-top:7px"><span>1957<i>/</i>01+</span></div>
<div class="c d g" style="left:454px;top:608px;width:53px;height:28px;padding-top:7px"><span>1957<i>/</i>01+</span></div>
<div class="c d g" style="left:508px;top:608px;width:52px;height:28px;padding-top:7px"><span>1957<i>/</i>01+</span></div>
<div class="c d g" style="left:561px;top:608px;width:52px;height:28px;padding-top:7px"><span>1974<i>/</i>20</span></div>
<div class="c d g" style="left:614px;top:608px;width:44px;height:28px;padding-top:7px"><span>1989<i>/</i>21</span></div>
<div class="c d g" style="left:659px;top:608px;width:53px;height:28px;padding-top:7px"><span>1970<i>/</i>10</span></div>
<div class="c d g" style="left:713px;top:608px;width:37px;height:28px;padding-top:7px"></div>
<div class="c d g" style="left:751px;top:608px;width:31px;height:28px;padding-top:7px"></div>
<div class="c l w" style="left:2px;top:637px;width:77px;height:41px"><span class="ln" style="transform:translateX(-0.08px) scaleX(0.9398)">Extreme Daily</span><span class="ln" style="transform:translateX(-0.09px) scaleX(0.9464)">Precipitation</span><span class="ln" style="transform:translateX(0.14px) scaleX(1.0199)">(mm)</span></div>
<div class="c d w" style="left:80px;top:637px;width:53px;height:41px;padding-top:14px"><span>58.4</span></div>
<div class="c d w" style="left:134px;top:637px;width:52px;height:41px;padding-top:14px"><span>49</span></div>
<div class="c d w" style="left:187px;top:637px;width:53px;height:41px;padding-top:14px"><span>53</span></div>
<div class="c d w" style="left:241px;top:637px;width:52px;height:41px;padding-top:14px"><span>59.9</span></div>
<div class="c d w" style="left:294px;top:637px;width:52px;height:41px;padding-top:14px"><span>59.4</span></div>
<div class="c d w" style="left:347px;top:637px;width:53px;height:41px;padding-top:14px"><span>57.4</span></div>
<div class="c d w" style="left:401px;top:637px;width:52px;height:41px;padding-top:14px"><span>53.3</span></div>
<div class="c d w" style="left:454px;top:637px;width:53px;height:41px;padding-top:14px"><b>134.8</b></div>
<div class="c d w" style="left:508px;top:637px;width:52px;height:41px;padding-top:14px"><span>73.6</span></div>
<div class="c d w" style="left:561px;top:637px;width:52px;height:41px;padding-top:14px"><span>67.3</span></div>
<div class="c d w" style="left:614px;top:637px;width:44px;height:41px;padding-top:14px"><span>51.6</span></div>
<div class="c d w" style="left:659px;top:637px;width:53px;height:41px;padding-top:14px"><span>45.6</span></div>
<div class="c d w" style="left:713px;top:637px;width:37px;height:41px;padding-top:14px"></div>
<div class="c d w" style="left:751px;top:637px;width:31px;height:41px;padding-top:14px"></div>
<div class="c l w" style="left:2px;top:679px;width:77px;height:28px"><span class="ln" style="transform:translateX(-0.08px) scaleX(0.9372)">Date</span><span class="ln" style="transform:translateX(0.14px) scaleX(1.0158)">(yyyy<i>/</i>dd)</span></div>
<div class="c d w" style="left:80px;top:679px;width:53px;height:28px;padding-top:7px"><span>1958<i>/</i>17</span></div>
<div class="c d w" style="left:134px;top:679px;width:52px;height:28px;padding-top:7px"><span>1988<i>/</i>04</span></div>
<div class="c d w" style="left:187px;top:679px;width:53px;height:28px;padding-top:7px"><span>1997<i>/</i>06</span></div>
<div class="c d w" style="left:241px;top:679px;width:52px;height:28px;padding-top:7px"><span>1962<i>/</i>01</span></div>
<div class="c d w" style="left:294px;top:679px;width:52px;height:28px;padding-top:7px"><span>1967<i>/</i>26</span></div>
<div class="c d w" style="left:347px;top:679px;width:53px;height:28px;padding-top:7px"><span>1977<i>/</i>03</span></div>
<div class="c d w" style="left:401px;top:679px;width:52px;height:28px;padding-top:7px"><span>1976<i>/</i>13</span></div>
<div class="c d w" style="left:454px;top:679px;width:53px;height:28px;padding-top:7px"><b>1989<i>/</i>05</b></div>
<div class="c d w" style="left:508px;top:679px;width:52px;height:28px;padding-top:7px"><span>1999<i>/</i>22</span></div>
<div class="c d w" style="left:561px;top:679px;width:52px;height:28px;padding-top:7px"><span>1959<i>/</i>25+</span></div>
<div class="c d w" style="left:614px;top:679px;width:44px;height:28px;padding-top:7px"><span>1975<i>/</i>13</span></div>
<div class="c d w" style="left:659px;top:679px;width:53px;height:28px;padding-top:7px"><span>1990<i>/</i>04</span></div>
<div class="c d w" style="left:713px;top:679px;width:37px;height:28px;padding-top:7px"></div>
<div class="c d w" style="left:751px;top:679px;width:31px;height:28px;padding-top:7px"></div>
<div class="c l g" style="left:2px;top:708px;width:77px;height:41px"><span class="ln" style="transform:translateX(-0.10px) scaleX(0.9608)">Extreme</span><span class="ln" style="transform:translateX(-0.29px) scaleX(0.9681)">Snow Depth</span><span class="ln" style="transform:translateX(0.10px) scaleX(1.0512)">(cm)</span></div>
<div class="c d g" style="left:80px;top:708px;width:53px;height:41px;padding-top:14px"><span>168</span></div>
<div class="c d g" style="left:134px;top:708px;width:52px;height:41px;padding-top:14px"><span>169</span></div>
<div class="c d g" style="left:187px;top:708px;width:53px;height:41px;padding-top:14px"><span>176</span></div>
<div class="c d g" style="left:241px;top:708px;width:52px;height:41px;padding-top:14px"><span>116</span></div>
<div class="c d g" style="left:294px;top:708px;width:52px;height:41px;padding-top:14px"><span>23</span></div>
<div class="c d g" style="left:347px;top:708px;width:53px;height:41px;padding-top:14px"><span>0</span></div>
<div class="c d g" style="left:401px;top:708px;width:52px;height:41px;padding-top:14px"><span>0</span></div>
<div class="c d g" style="left:454px;top:708px;width:53px;height:41px;padding-top:14px"><span>43</span></div>
<div class="c d g" style="left:508px;top:708px;width:52px;height:41px;padding-top:14px"><span>0</span></div>
<div class="c d g" style="left:561px;top:708px;width:52px;height:41px;padding-top:14px"><span>20</span></div>
<div class="c d g" style="left:614px;top:708px;width:44px;height:41px;padding-top:14px"><span>50</span></div>
<div class="c d g" style="left:659px;top:708px;width:53px;height:41px;padding-top:14px"><b>178</b></div>
<div class="c d g" style="left:713px;top:708px;width:37px;height:41px;padding-top:14px"></div>
<div class="c d g" style="left:751px;top:708px;width:31px;height:41px;padding-top:14px"></div>
<div class="c l g" style="left:2px;top:750px;width:77px;height:28px"><span class="ln" style="transform:translateX(-0.08px) scaleX(0.9372)">Date</span><span class="ln" style="transform:translateX(0.14px) scaleX(1.0158)">(yyyy<i>/</i>dd)</span></div>
<div class="c d g" style="left:80px;top:750px;width:53px;height:28px;padding-top:7px"><span>1971<i>/</i>01</span></div>
<div class="c d g" style="left:134px;top:750px;width:52px;height:28px;padding-top:7px"><span>1987<i>/</i>16+</span></div>
<div class="c d g" style="left:187px;top:750px;width:53px;height:28px;padding-top:7px"><span>1987<i>/</i>19</span></div>
<div class="c d g" style="left:241px;top:750px;width:52px;height:28px;padding-top:7px"><span>1997<i>/</i>03+</span></div>
<div class="c d g" style="left:294px;top:750px;width:52px;height:28px;padding-top:7px"><span>1961<i>/</i>03</span></div>
<div class="c d g" style="left:347px;top:750px;width:53px;height:28px;padding-top:7px"><span>1961<i>/</i>01+</span></div>
<div class="c d g" style="left:401px;top:750px;width:52px;height:28px;padding-top:7px"><span>1961<i>/</i>01+</span></div>
<div class="c d g" style="left:454px;top:750px;width:53px;height:28px;padding-top:7px"><span>1971<i>/</i>16</span></div>
<div class="c d g" style="left:508px;top:750px;width:52px;height:28px;padding-top:7px"><span>1961<i>/</i>01+</span></div>
<div class="c d g" style="left:561px;top:750px;width:52px;height:28px;padding-top:7px"><span>1974<i>/</i>20+</span></div>
<div class="c d g" style="left:614px;top:750px;width:44px;height:28px;padding-top:7px"><span>1989<i>/</i>28</span></div>
<div class="c d g" style="left:659px;top:750px;width:53px;height:28px;padding-top:7px"><b>1970<i>/</i>29</b></div>
<div class="c d g" style="left:713px;top:750px;width:37px;height:28px;padding-top:7px"></div>
<div class="c d g" style="left:751px;top:750px;width:31px;height:28px;padding-top:7px"></div>
<div class="e" style="left:0;top:0;width:784px;height:1px;background:#c9e3d6"></div>
<div class="e" style="left:0;top:0;width:1px;height:780px;background:#c9e3d6"></div>
<div class="e" style="left:783px;top:0;width:1px;height:780px;background:#1d5537"></div>
</div></body></html>
